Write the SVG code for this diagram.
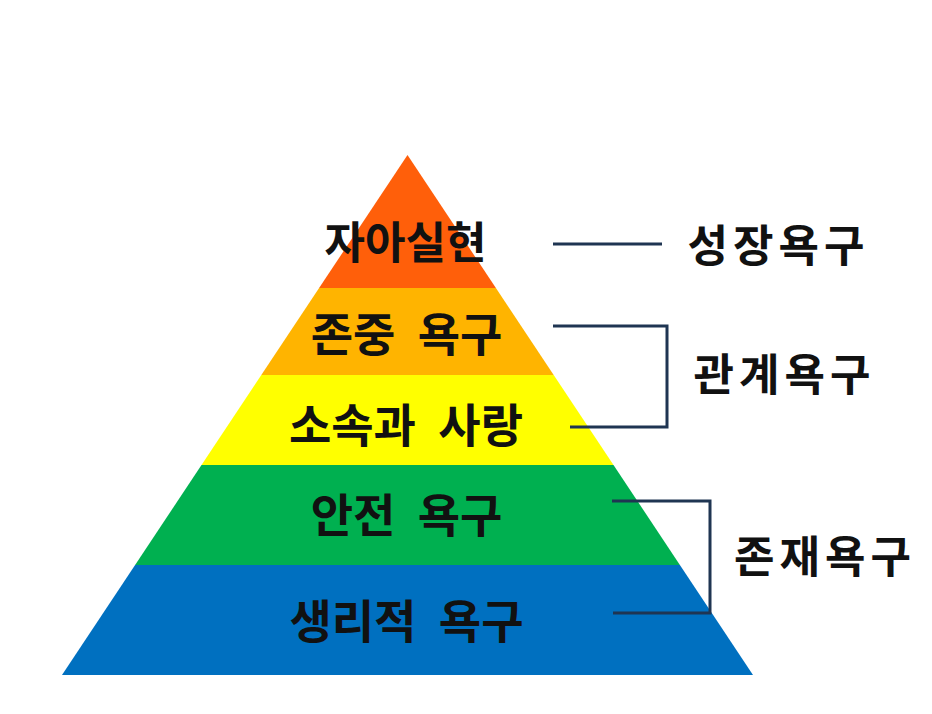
<svg xmlns="http://www.w3.org/2000/svg" width="932" height="714" viewBox="0 0 932 714">
<style>
.t{font-family:"Noto Sans CJK KR","Noto Sans",sans-serif;font-weight:bold;font-size:46px;fill:#111;text-anchor:middle;word-spacing:12px}
.s{font-size:44px}
.r{font-size:44px;letter-spacing:5px}
.c{fill:none;stroke:#1F3552;stroke-width:3}
</style>
<rect width="932" height="714" fill="#fff"/>
<g id="level-self">
<polygon points="407.5,155 495.9,288 319.1,288" fill="#FF5F0A"/>
<text class="t s" x="405.5" y="259">자아실현</text>
</g>
<g id="level-esteem">
<polygon points="319.1,288 495.9,288 553.7,375 261.3,375" fill="#FFB400"/>
<text class="t" x="406.5" y="350.5">존중 욕구</text>
</g>
<g id="level-love">
<polygon points="261.3,375 553.7,375 613.5,465 201.5,465" fill="#FFFF00"/>
<text class="t" x="406" y="441.5">소속과 사랑</text>
</g>
<g id="level-safety">
<polygon points="201.5,465 613.5,465 679.9,565 135.1,565" fill="#00B050"/>
<text class="t" x="406.5" y="531.5">안전 욕구</text>
</g>
<g id="level-physio">
<polygon points="135.1,565 679.9,565 753,675 62,675" fill="#0070C0"/>
<text class="t" x="406.5" y="637.5">생리적 욕구</text>
</g>
<g id="connectors">
<line class="c" x1="553" y1="244" x2="662" y2="244"/>
<polyline class="c" points="553,326 667,326 667,427 570,427"/>
<polyline class="c" points="612,501 710,501 710,613 613,613"/>
</g>
<g id="label-growth"><text class="t r" x="778.5" y="262">성장욕구</text></g>
<g id="label-relatedness"><text class="t r" x="784.5" y="391">관계욕구</text></g>
<g id="label-existence"><text class="t r" x="825" y="573">존재욕구</text></g>
</svg>
